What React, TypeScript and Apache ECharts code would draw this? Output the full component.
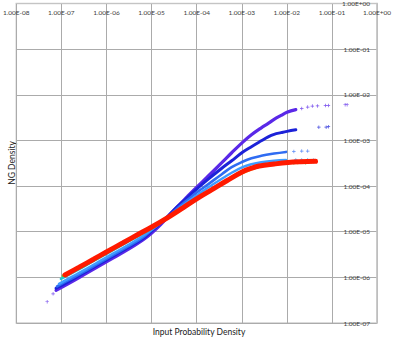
import React, { useEffect, useRef } from "react";
import * as echarts from "echarts";

type P = [number, number];

// ---- data (x = input probability density, y = NG density) ----
const violetDense: P[] = [
  [7.62e-8, 5.2e-7], [1.47e-7, 7.4e-7], [3.12e-7, 1.13e-6], [6.65e-7, 1.74e-6], [1.42e-6, 2.67e-6],
  [3.01e-6, 4.08e-6], [6.42e-6, 6.59e-6], [1.01e-5, 9.37e-6], [1.59e-5, 1.43e-5], [2.38e-5, 2.2e-5],
  [3.75e-5, 3.55e-5], [6.2e-5, 5.87e-5], [1.06e-4, 9.95e-5], [1.7e-4, 1.56e-4], [3.61e-4, 3.25e-4],
  [5.98e-4, 5.37e-4], [1.04e-3, 9.09e-4], [1.64e-3, 1.33e-3], [2.71e-3, 1.89e-3], [3.86e-3, 2.36e-3],
  [5.22e-3, 2.89e-3], [7.43e-3, 3.53e-3], [1.005e-2, 4.15e-3], [1.58e-2, 4.72e-3],
];
const violetSparse: P[] = [
  [4.84e-8, 2.92e-7], [6.55e-8, 4.36e-7], [2.14e-2, 5.02e-3], [2.9e-2, 5.37e-3], [3.67e-2, 5.65e-3],
  [4.79e-2, 5.7e-3], [7.17e-2, 5.84e-3], [8.34e-2, 5.84e-3], [0.196, 6.05e-3], [0.217, 6.05e-3],
];
const blueDense: P[] = [
  [7.62e-8, 5.76e-7], [1.47e-7, 8.17e-7], [3.12e-7, 1.25e-6], [6.65e-7, 1.92e-6], [1.42e-6, 2.95e-6],
  [3.01e-6, 4.52e-6], [6.42e-6, 7.1e-6], [1.01e-5, 1.04e-5], [1.59e-5, 1.55e-5], [2.38e-5, 2.26e-5],
  [3.75e-5, 3.55e-5], [6.2e-5, 5.6e-5], [1.06e-4, 9.0e-5], [1.7e-4, 1.35e-4], [3.61e-4, 2.46e-4],
  [5.98e-4, 3.59e-4], [1.04e-3, 5.5e-4], [1.64e-3, 7.3e-4], [2.71e-3, 9.8e-4], [3.86e-3, 1.2e-3],
  [5.22e-3, 1.36e-3], [7.43e-3, 1.48e-3], [1.005e-2, 1.58e-3], [1.58e-2, 1.71e-3],
];
const blueSparse: P[] = [[5.12e-2, 1.95e-3], [7.43e-2, 1.95e-3], [8.34e-2, 2.0e-3]];
const mediumDense: P[] = [
  [8.01e-8, 6.36e-7], [1.47e-7, 8.82e-7], [3.12e-7, 1.32e-6], [6.65e-7, 2.02e-6], [1.42e-6, 3.1e-6],
  [3.01e-6, 4.75e-6], [6.42e-6, 7.5e-6], [1.01e-5, 1.09e-5], [1.59e-5, 1.55e-5], [2.38e-5, 2.15e-5],
  [3.75e-5, 3.29e-5], [6.2e-5, 4.92e-5], [1.06e-4, 7.55e-5], [1.7e-4, 1.05e-4], [3.61e-4, 1.82e-4],
  [5.98e-4, 2.59e-4], [1.04e-3, 3.41e-4], [1.64e-3, 4.07e-4], [2.71e-3, 4.6e-4], [5.22e-3, 5.15e-4],
  [9.56e-3, 5.6e-4],
];
const mediumSparse: P[] = [[1.43e-2, 5.75e-4], [2.14e-2, 5.85e-4], [2.9e-2, 5.85e-4]];
const lightDense: P[] = [
  [8.86e-8, 7.21e-7], [1.47e-7, 9.5e-7], [3.12e-7, 1.42e-6], [6.65e-7, 2.18e-6], [1.42e-6, 3.35e-6],
  [3.01e-6, 5.12e-6], [6.42e-6, 8.06e-6], [1.01e-5, 1.12e-5], [1.59e-5, 1.59e-5], [2.38e-5, 2.09e-5],
  [3.75e-5, 3.05e-5], [6.2e-5, 4.45e-5], [1.06e-4, 6.5e-5], [1.7e-4, 9.0e-5], [3.61e-4, 1.45e-4],
  [5.98e-4, 1.96e-4], [1.04e-3, 2.6e-4], [1.64e-3, 3.01e-4], [2.71e-3, 3.33e-4], [5.22e-3, 3.59e-4],
  [9.56e-3, 3.72e-4],
];
const lightSparse: P[] = [[1.58e-2, 3.78e-4], [2.14e-2, 3.78e-4], [2.9e-2, 3.78e-4], [3.92e-2, 3.72e-4]];
const cyanDense: P[] = [
  [9.8e-8, 9.3e-7], [2.43e-7, 1.5e-6], [5.17e-7, 2.29e-6], [9.95e-7, 3.26e-6], [2.34e-6, 5.25e-6],
  [4.99e-6, 8.06e-6], [1.01e-5, 1.17e-5], [2.38e-5, 2.09e-5], [5.07e-5, 3.29e-5], [1.06e-4, 5.44e-5],
  [2.18e-4, 8.55e-5], [4.65e-4, 1.35e-4], [1.04e-3, 2.12e-4], [1.64e-3, 2.52e-4], [2.71e-3, 2.86e-4],
  [5.22e-3, 3.17e-4], [1.06e-2, 3.41e-4], [2.03e-2, 3.5e-4],
];
const cyanSparse: P[] = [[2.9e-2, 3.63e-4], [3.92e-2, 3.41e-4]];
const greenDense: P[] = [
  [1.08e-7, 1.08e-6], [2.43e-7, 1.57e-6], [9.95e-7, 3.43e-6], [4.99e-6, 8.3e-6], [2.38e-5, 2.04e-5],
  [1.06e-4, 5.3e-5], [4.65e-4, 1.31e-4], [1.04e-3, 2.06e-4], [2.71e-3, 2.8e-4], [5.22e-3, 3.09e-4],
  [1.06e-2, 3.33e-4], [2.03e-2, 3.45e-4],
];
const greenSparse: P[] = [[1.43e-2, 3.17e-4], [2.62e-2, 3.2e-4], [3.54e-2, 3.41e-4]];
const yellowDense: P[] = [
  [1.14e-7, 1.1e-6], [9.95e-7, 3.5e-6], [2.38e-5, 2.05e-5], [4.65e-4, 1.31e-4], [2.71e-3, 2.75e-4],
  [1.06e-2, 3.28e-4], [2.62e-2, 3.41e-4],
];
const yellowSparse: P[] = [[1.75e-2, 3.24e-4], [3.2e-2, 3.33e-4]];
const redDense: P[] = [
  [1.2e-7, 1.13e-6], [2.43e-7, 1.65e-6], [5.17e-7, 2.5e-6], [9.95e-7, 3.6e-6], [2.34e-6, 5.72e-6],
  [4.99e-6, 8.69e-6], [1.01e-5, 1.27e-5], [2.38e-5, 2.09e-5], [5.07e-5, 3.38e-5], [1.06e-4, 5.44e-5],
  [2.18e-4, 8.34e-5], [4.65e-4, 1.31e-4], [1.04e-3, 2.06e-4], [1.64e-3, 2.46e-4], [2.45e-3, 2.75e-4],
  [5.22e-3, 3.04e-4], [1.06e-2, 3.28e-4], [2.03e-2, 3.41e-4], [4.33e-2, 3.5e-4],
];
const redSparse: P[] = [[3.67e-2, 3.55e-4], [4.33e-2, 3.5e-4]];

const X_MIN = 1e-8;
const X_MAX = 1;
const Y_MIN = 1e-7;
const Y_MAX = 1;
const X_TITLE = "Input Probability Density";
const Y_TITLE = "NG Density";

const PLUS = "path://M2,0H3V2H5V3H3V5H2V3H0V2H2Z";
const FONT = "Lato, 'Liberation Sans', sans-serif";

const fmt = (v: number) => {
  const e = Math.round(Math.log10(v));
  const m = v / Math.pow(10, e);
  return m.toFixed(2) + "E" + (e < 0 ? "-" : "+") + String(Math.abs(e)).padStart(2, "0");
};

const curves: { name: string; dense: P[]; sparse: P[]; color: string; width: number }[] = [
  { name: "s1", dense: violetDense, sparse: violetSparse, color: "#5a28e8", width: 3.2 },
  { name: "s2", dense: blueDense, sparse: blueSparse, color: "#1c22d8", width: 3 },
  { name: "s3", dense: mediumDense, sparse: mediumSparse, color: "#2f6cf2", width: 2.6 },
  { name: "s4", dense: lightDense, sparse: lightSparse, color: "#3f9cff", width: 2.4 },
  { name: "s5", dense: cyanDense, sparse: cyanSparse, color: "#1ec8d2", width: 2.6 },
  { name: "s6", dense: greenDense, sparse: greenSparse, color: "#4cd838", width: 2.6 },
  { name: "s7", dense: yellowDense, sparse: yellowSparse, color: "#d8d810", width: 2.6 },
  { name: "s8", dense: redDense, sparse: redSparse, color: "#ff1a00", width: 5 },
];

export default function App() {
  const ref = useRef<HTMLDivElement>(null);
  useEffect(() => {
    if (!ref.current) return;
    const chart = echarts.init(ref.current, null, { renderer: "svg" });
    const series: any[] = [];
    curves.forEach((c) => {
      series.push({
        type: "line",
        name: c.name,
        data: c.dense,
        showSymbol: false,
        symbol: "none",
        smooth: 0.4,
        silent: true,
        lineStyle: { color: c.color, width: c.width, cap: "round" },
        itemStyle: { color: c.color },
      });
      series.push({
        type: "scatter",
        name: c.name + "p",
        data: c.sparse,
        symbol: PLUS,
        symbolSize: 3.5,
        silent: true,
        itemStyle: { color: c.color },
      });
    });
    const labelStyle = {
      fontSize: 6.5,
      fontFamily: FONT,
      color: "#404040",
      formatter: fmt,
      showMinLabel: true,
      showMaxLabel: true,
    };
    chart.setOption({
      animation: false,
      backgroundColor: "#ffffff",
      grid: {
        left: 16,
        top: 2,
        width: 366,
        height: 321,
        show: true,
        borderColor: "#cfcfcf",
        borderWidth: 1.5,
      },
      xAxis: {
        type: "log",
        logBase: 10,
        min: X_MIN,
        max: X_MAX,
        splitNumber: 8,
        position: "top",
        axisLine: { show: true, lineStyle: { color: "#c4c4c4", width: 1 } },
        axisTick: { show: false },
        axisLabel: { ...labelStyle, inside: true, margin: 5 },
        splitLine: { show: true, lineStyle: { color: "#ababab", width: 1 } },
      },
      yAxis: {
        type: "log",
        logBase: 10,
        min: Y_MIN,
        max: Y_MAX,
        splitNumber: 7,
        position: "right",
        axisLine: { show: true, lineStyle: { color: "#c4c4c4", width: 1.5 } },
        axisTick: { show: false },
        axisLabel: { ...labelStyle, inside: true, margin: 7 },
        splitLine: { show: true, lineStyle: { color: "#ababab", width: 1 } },
      },
      graphic: [
        {
          type: "text",
          x: 199,
          y: 332,
          silent: true,
          style: {
            text: X_TITLE,
            fontSize: 8.5,
            fontFamily: FONT,
            fill: "#222",
            align: "center",
            verticalAlign: "middle",
          },
        },
        {
          type: "text",
          x: 11.5,
          y: 163,
          rotation: Math.PI / 2,
          silent: true,
          style: {
            text: Y_TITLE,
            fontSize: 8.5,
            fontFamily: FONT,
            fill: "#222",
            align: "center",
            verticalAlign: "middle",
          },
        },
      ],
      series,
    });
    return () => chart.dispose();
  }, []);
  return (
    <div
      ref={ref}
      style={{ position: "fixed", left: 0, top: 0, width: 394, height: 339, background: "#fff" }}
    />
  );
}
